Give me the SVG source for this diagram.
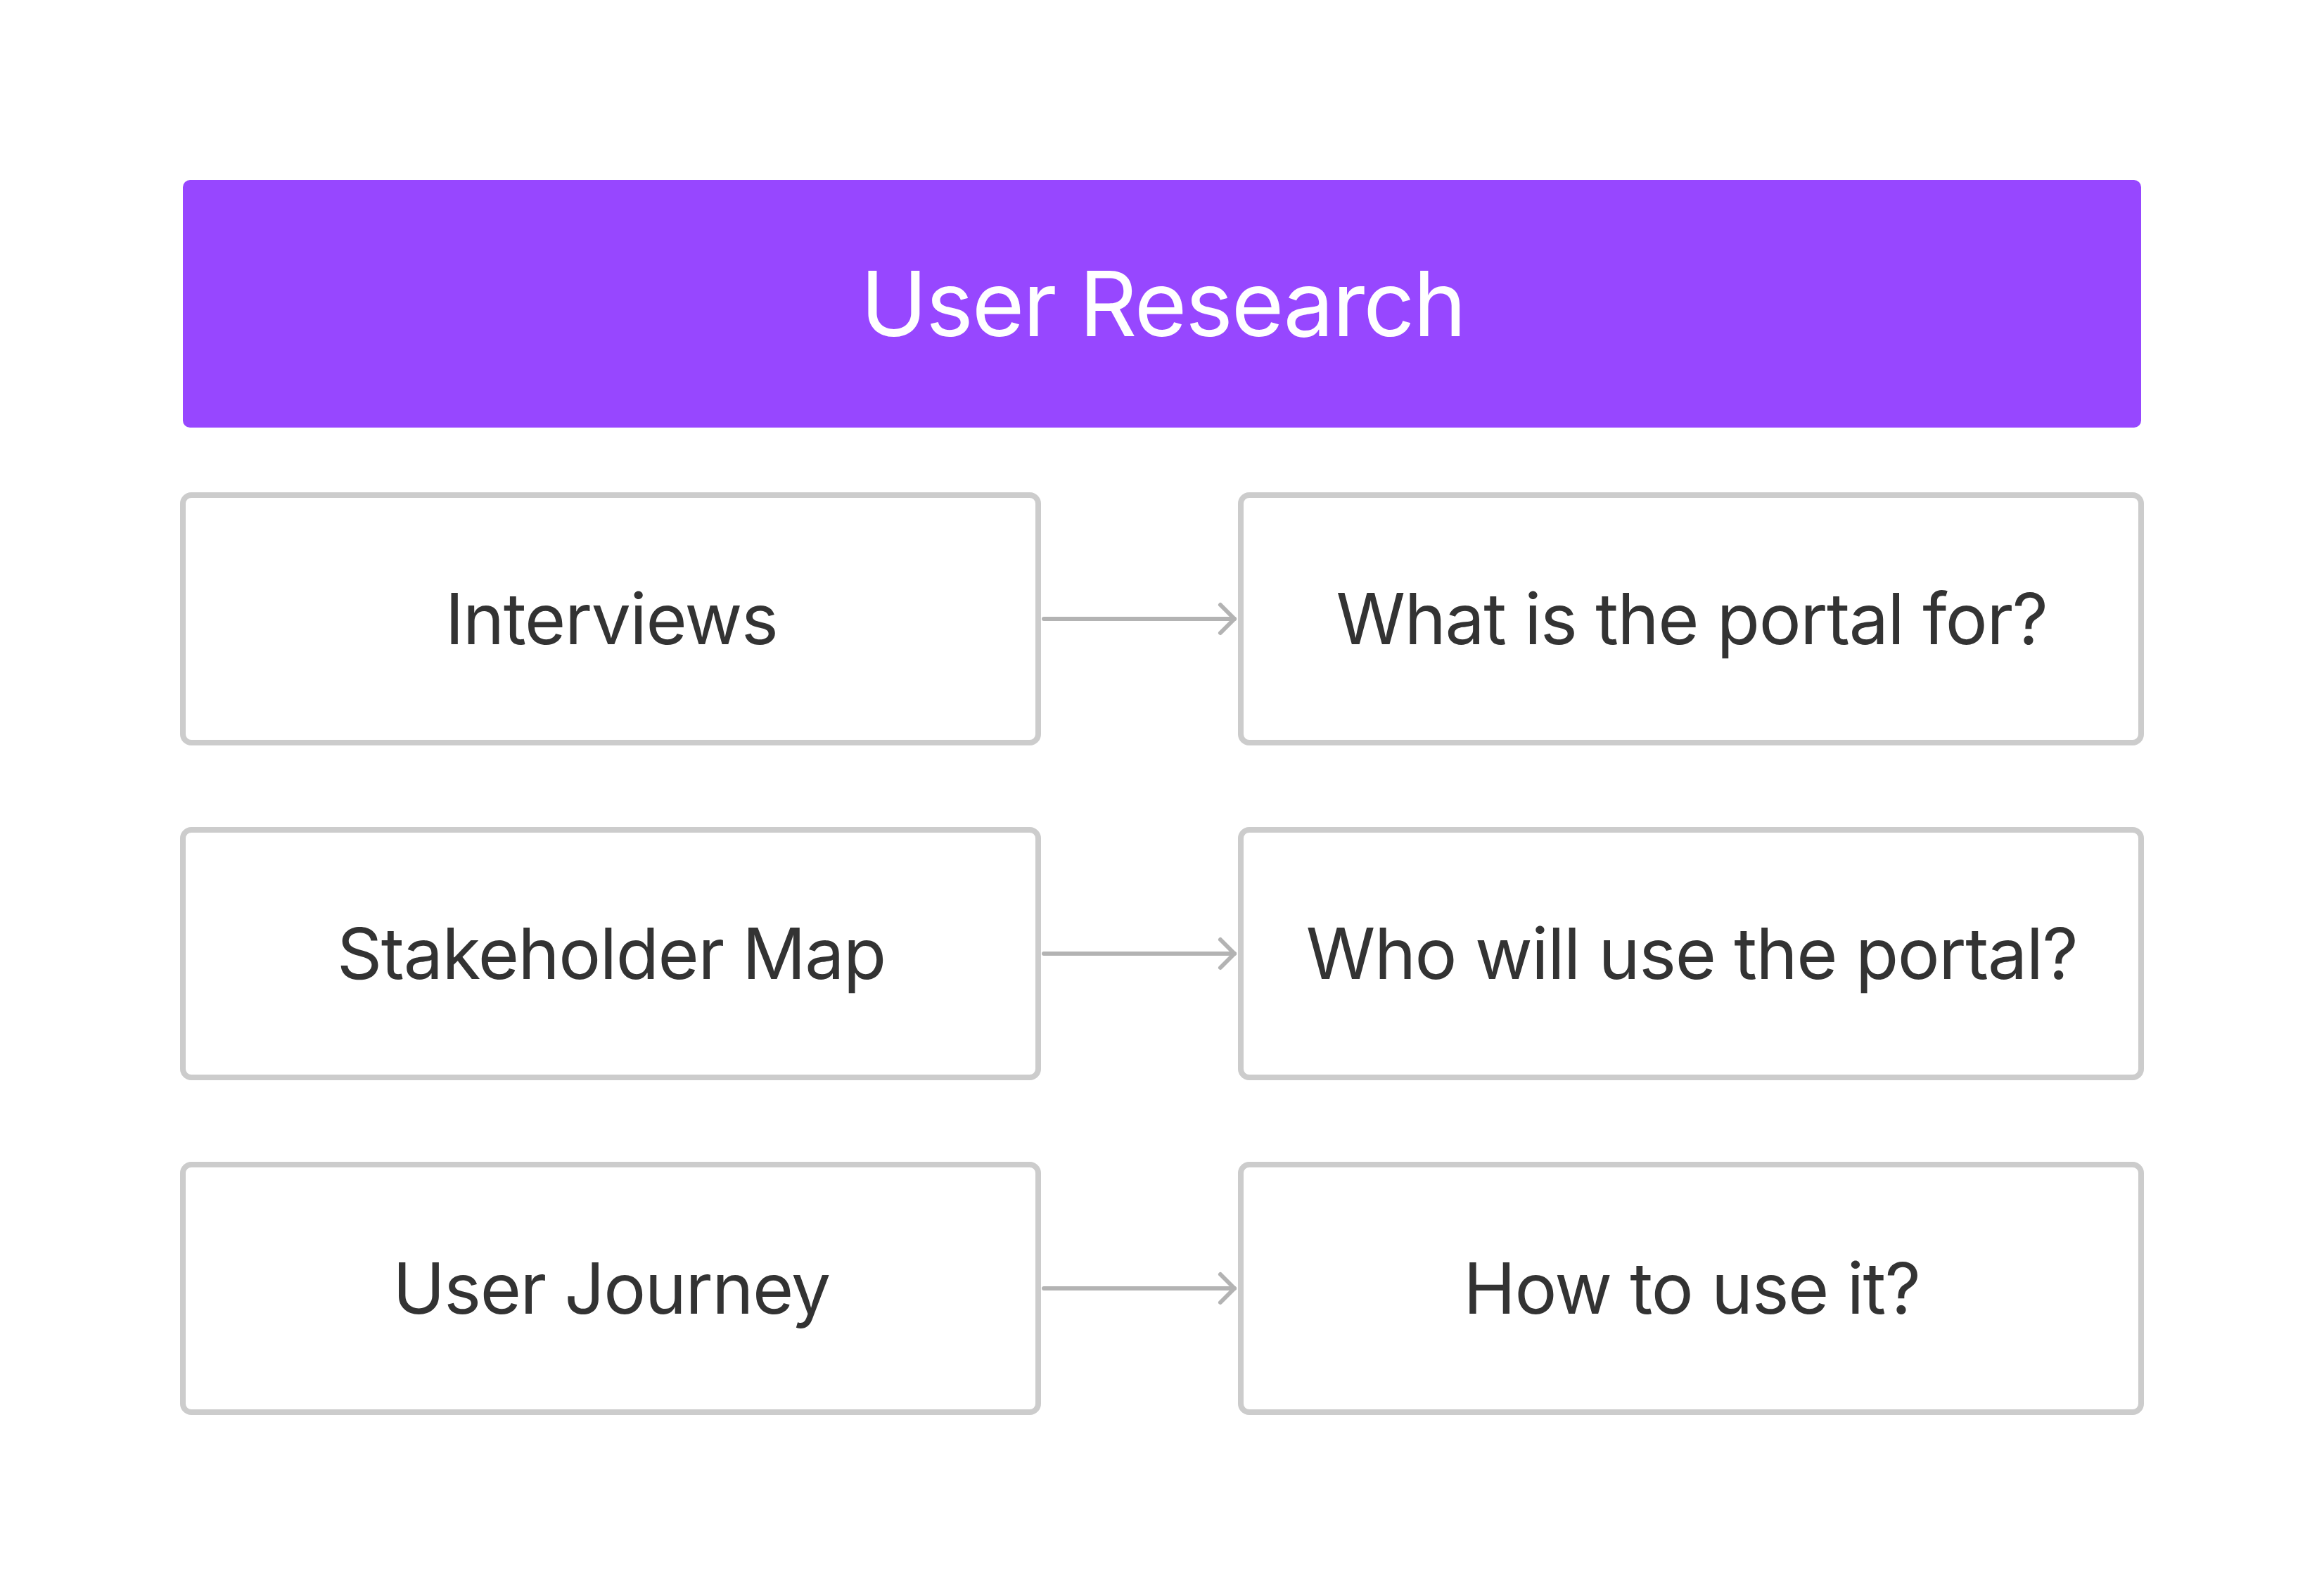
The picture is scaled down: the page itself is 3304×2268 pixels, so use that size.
<svg xmlns="http://www.w3.org/2000/svg" width="3304" height="2268" viewBox="0 0 3304 2268">
  <style>
    .box { fill: #FFFFFF; stroke: #CCCCCC; stroke-width: 8; }
    .label { font-family: Inter, "Noto Sans", "Liberation Sans", sans-serif; font-size: 100px; letter-spacing: -1.4px; fill: #333333; text-anchor: middle; }
    .title { font-family: Inter, "Noto Sans", "Liberation Sans", sans-serif; font-size: 128px; letter-spacing: -2.1px; fill: #FFFFFF; text-anchor: middle; }
    .conn { fill: none; stroke: #B3B3B3; stroke-width: 6; stroke-linecap: round; stroke-linejoin: round; }
  </style>
  <defs>
    <marker id="arrow" markerUnits="userSpaceOnUse" viewBox="-30 -30 40 60" markerWidth="40" markerHeight="60" refX="0" refY="0" orient="auto" overflow="visible">
      <path d="M-20,-20 L0,0 L-20,20" fill="none" stroke="#B3B3B3" stroke-width="6" stroke-linecap="round" stroke-linejoin="round"/>
    </marker>
  </defs>
  <rect width="3304" height="2268" fill="#FFFFFF"/>

  <g id="user-research">
    <rect x="260" y="256" width="2784" height="352" rx="10" fill="#9747FF"/>
    <text class="title" x="1653" y="478">User Research</text>
  </g>

  <g id="interviews">
    <rect class="box" x="260" y="704" width="1216" height="352" rx="12"/>
    <text class="label" x="869" y="916">Interviews</text>
  </g>
  <g id="portal-for">
    <rect class="box" x="1764" y="704" width="1280" height="352" rx="12"/>
    <text class="label" x="2405" y="916">What is the portal for?</text>
  </g>

  <g id="stakeholder-map">
    <rect class="box" x="260" y="1180" width="1216" height="352" rx="12"/>
    <text class="label" x="869" y="1392">Stakeholder Map</text>
  </g>
  <g id="who-will-use">
    <rect class="box" x="1764" y="1180" width="1280" height="352" rx="12"/>
    <text class="label" x="2405" y="1392">Who will use the portal?</text>
  </g>

  <g id="user-journey">
    <rect class="box" x="260" y="1656" width="1216" height="352" rx="12"/>
    <text class="label" x="869" y="1868">User Journey</text>
  </g>
  <g id="how-to-use">
    <rect class="box" x="1764" y="1656" width="1280" height="352" rx="12"/>
    <text class="label" x="2405" y="1868">How to use it?</text>
  </g>

  <g id="connectors">
    <path class="conn" d="M1484,880 L1755,880" marker-end="url(#arrow)"/>
    <path class="conn" d="M1484,1356 L1755,1356" marker-end="url(#arrow)"/>
    <path class="conn" d="M1484,1832 L1755,1832" marker-end="url(#arrow)"/>
  </g>
</svg>
